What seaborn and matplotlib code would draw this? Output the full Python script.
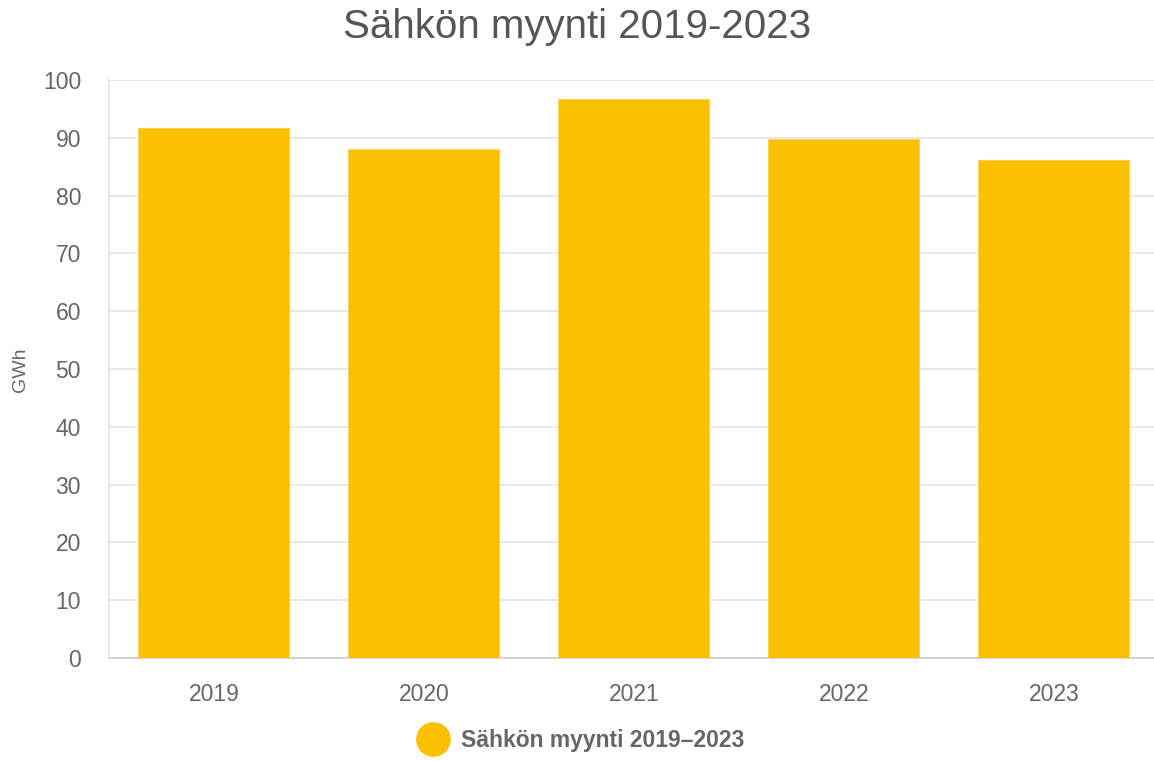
import matplotlib
matplotlib.use("Agg")
import matplotlib.pyplot as plt
import seaborn as sns
import pandas as pd
from matplotlib.lines import Line2D

years = ["2019", "2020", "2021", "2022", "2023"]
values = [91.6, 88.1, 96.7, 89.8, 86.2]
yticks = [0, 10, 20, 30, 40, 50, 60, 70, 80, 90, 100]
title = "Sähkön myynti 2019-2023"
legend_label = "Sähkön myynti 2019–2023"
ylabel = "GWh"

sns.set_theme(style="white")
plt.rcParams["font.family"] = ["Liberation Sans", "DejaVu Sans"]

df = pd.DataFrame({"year": years, "value": values})

fig = plt.figure(figsize=(11.54, 7.61), dpi=100)
ax = fig.add_axes([0.0943, 0.1353, 0.9099, 0.7597])

sns.barplot(data=df, x="year", y="value", color="#FBC000", width=0.72,
            edgecolor="#FDD35A", linewidth=0.8, saturation=1, ax=ax, zorder=3)

ax.set_ylim(0, 100)
ax.set_yticks(yticks)
ax.set_xlim(-0.5, 4.5)
ax.grid(axis="y", color="#e3e3e3", linewidth=1.2, zorder=0)
ax.tick_params(axis="y", length=16, color="#e3e3e3", width=1.2, labelsize=16.5,
               labelcolor="#666666", pad=4)
ax.tick_params(axis="x", length=0, labelsize=16.5, labelcolor="#666666", pad=18)
for s in ["top", "right"]:
    ax.spines[s].set_visible(False)
ax.spines["left"].set_color("#e3e3e3")
ax.spines["left"].set_linewidth(1.2)
ax.spines["bottom"].set_color("#cccccc")
ax.spines["bottom"].set_linewidth(1.2)
ax.set_xlabel("")
ax.set_ylabel("")

fig.text(20 / 1154, 1 - 370 / 761, ylabel, rotation=90, ha="center", va="center",
         fontsize=14, color="#666666")
fig.text(0.5, 1 - 27 / 761, title, ha="center", va="center", fontsize=29, color="#555555")

handle = Line2D([], [], marker="o", linestyle="", markersize=24,
                markerfacecolor="#FBC000", markeredgecolor="#FBC000")
fig.legend([handle], [legend_label], loc="center", bbox_to_anchor=(0.5, 1 - 741 / 761),
           frameon=False, prop={"size": 16.5, "weight": "bold"}, labelcolor="#666666",
           handletextpad=0.2)

fig.savefig("out.png", dpi=100)
